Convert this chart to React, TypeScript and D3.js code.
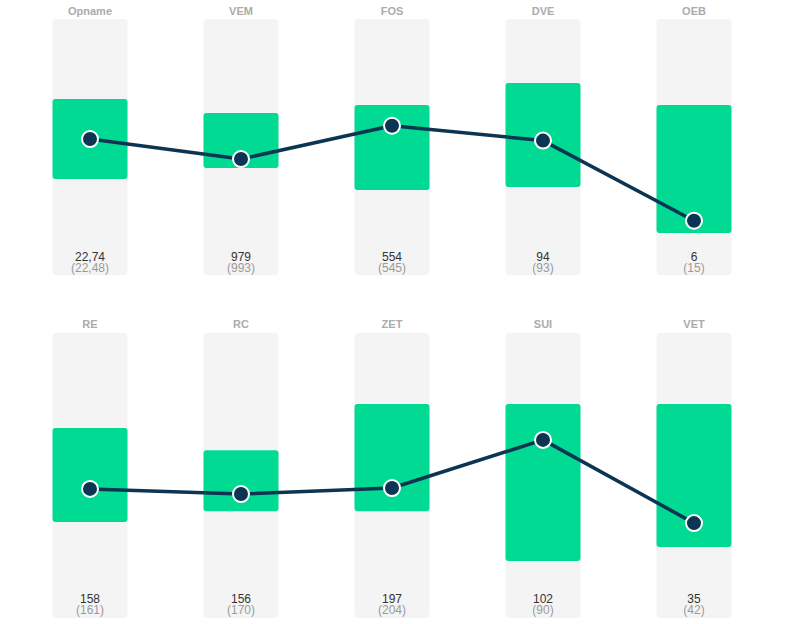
import React from "react";
import * as d3 from "d3";

const topCategories = ["Opname", "VEM", "FOS", "DVE", "OEB"];
const topValueLabels = ["22,74", "979", "554", "94", "6"];
const topRefLabels = ["(22,48)", "(993)", "(545)", "(93)", "(15)"];
const topRangeLow = [37.5, 41.8, 33.2, 34.4, 16.4];
const topRangeHigh = [68.75, 63.3, 66.4, 75, 66.4];
const topScore = [53.1, 45.3, 58.3, 52.5, 21.2];

const bottomCategories = ["RE", "RC", "ZET", "SUI", "VET"];
const bottomValueLabels = ["158", "156", "197", "102", "35"];
const bottomRefLabels = ["(161)", "(170)", "(204)", "(90)", "(42)"];
const bottomRangeLow = [33.7, 37.5, 37.5, 20, 24.9];
const bottomRangeHigh = [66.7, 58.9, 75.1, 75.1, 75.1];
const bottomScore = [45.3, 43.5, 45.6, 62.5, 33.3];

const W = 787;
const H = 624;
const BAR_W = 75;
const GREEN = "#00da93";
const NAVY = "#0b3552";
const FONT = "Liberation Sans, Arial, sans-serif";

type RowProps = {
  categories: string[];
  valueLabels: string[];
  refLabels: string[];
  low: number[];
  high: number[];
  score: number[];
  top: number;
  bottom: number;
  labelY: number;
  valueY: number;
  refY: number;
};

function Row(p: RowProps) {
  const x = d3.scalePoint<string>().domain(p.categories).range([90, 694]);
  const y = d3.scaleLinear().domain([0, 100]).range([p.bottom, p.top]);
  const pts: [number, number][] = p.categories.map((c, i) => [x(c)!, y(p.score[i])]);
  const line = d3.line().curve(d3.curveLinear)(pts) || "";
  return (
    <g>
      {p.categories.map((c, i) => {
        const cx = x(c)!;
        return (
          <g key={c}>
            <text x={cx} y={p.labelY} textAnchor="middle" fontSize={11} fontWeight={700} fill="#ababab" fontFamily={FONT}>{c}</text>
            <rect x={cx - BAR_W / 2} y={p.top} width={BAR_W} height={p.bottom - p.top} rx={4} fill="#f4f4f4" />
            <rect x={cx - BAR_W / 2} y={y(p.high[i])} width={BAR_W} height={y(p.low[i]) - y(p.high[i])} rx={3} fill={GREEN} />
            <text x={cx} y={p.valueY} textAnchor="middle" fontSize={12} fill="#333" fontFamily={FONT}>{p.valueLabels[i]}</text>
            <text x={cx} y={p.refY} textAnchor="middle" fontSize={12} fill="#9a9a9a" fontFamily={FONT}>{p.refLabels[i]}</text>
          </g>
        );
      })}
      <path d={line} fill="none" stroke={NAVY} strokeWidth={3.5} strokeLinejoin="round" />
      {pts.map((pt, i) => (
        <circle key={i} cx={pt[0]} cy={pt[1]} r={8} fill={NAVY} stroke="#fff" strokeWidth={2} />
      ))}
    </g>
  );
}

export default function App() {
  return (
    <svg width={W} height={H} style={{ position: "absolute", left: 0, top: 0, background: "#fff" }}>
      <Row
        categories={topCategories}
        valueLabels={topValueLabels}
        refLabels={topRefLabels}
        low={topRangeLow}
        high={topRangeHigh}
        score={topScore}
        top={19}
        bottom={275}
        labelY={15}
        valueY={260.5}
        refY={271.5}
      />
      <Row
        categories={bottomCategories}
        valueLabels={bottomValueLabels}
        refLabels={bottomRefLabels}
        low={bottomRangeLow}
        high={bottomRangeHigh}
        score={bottomScore}
        top={333}
        bottom={618}
        labelY={328}
        valueY={602.5}
        refY={613.5}
      />
    </svg>
  );
}
